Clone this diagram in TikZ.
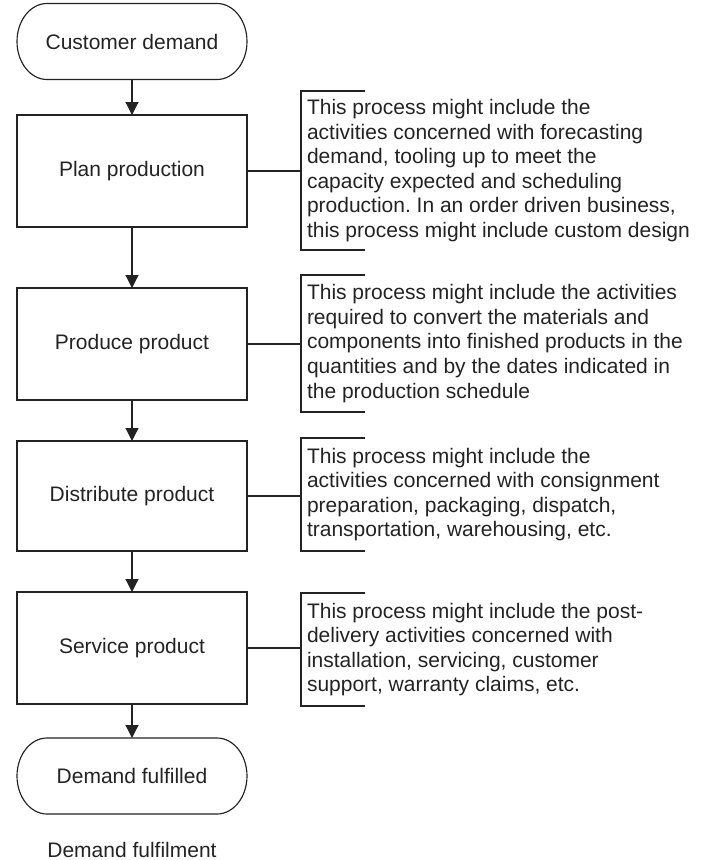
\documentclass[tikz,border=0pt]{standalone}
\usepackage{fontspec}
\setmainfont{Liberation Sans}
\usetikzlibrary{arrows.meta}
\definecolor{ink}{HTML}{232323}
\frenchspacing

\begin{document}
\begin{tikzpicture}[x=1pt, y=1pt,
    font=\fontsize{21}{24.6}\selectfont,
    every node/.style={text=ink, outer sep=0pt},
    line/.style={draw=ink, line width=1.15pt},
    stepbox/.style={line, rectangle, inner sep=0pt,
      minimum width=230pt, minimum height=112pt},
    terminal/.style={rectangle, inner sep=0pt,
      minimum width=230pt, minimum height=76pt},
    note/.style={anchor=west, align=left, inner xsep=6pt, inner ysep=0pt},
    flow/.style={line, -{Triangle[length=13pt, width=13pt]}},
    link/.style={line},
  ]
  \useasboundingbox (0,0) rectangle (713,-860);

  % main flow
  \node[terminal] (cust) at (132,-41.5) {Customer demand};
  \node[stepbox] (plan) at (132,-171) {Plan production};
  \node[stepbox] (prod) at (132,-344) {Produce product};
  \node[stepbox, minimum height=110pt] (dist) at (132,-496) {Distribute product};
  \node[stepbox] (serv) at (132,-648) {Service product};
  \node[terminal] (done) at (132,-776) {Demand fulfilled};

  % terminal outlines with elliptical ends
  \foreach \t in {cust,done}{
    \draw[line] ([xshift=30pt]\t.north west) -- ([xshift=-30pt]\t.north east)
      arc[start angle=90, end angle=-90, x radius=30pt, y radius=38pt]
      -- ([xshift=30pt]\t.south west)
      arc[start angle=270, end angle=90, x radius=30pt, y radius=38pt]
      -- cycle;
  }

  \draw[flow] (cust) -- (plan);
  \draw[flow] (plan) -- (prod);
  \draw[flow] (prod) -- (dist);
  \draw[flow] (dist) -- (serv);
  \draw[flow] (serv) -- (done);

  % annotations
  \node[note, minimum height=159pt] (n1) at (301,-170.5)
    {This process might include the\\
     activities concerned with forecasting\\
     demand, tooling up to meet the\\
     capacity expected and scheduling\\
     production. In an order driven business,\\
     this process might include custom design};
  \node[note, minimum height=137pt] (n2) at (301,-343.5)
    {This process might include the activities\\
     required to convert the materials and\\
     components into finished products in the\\
     quantities and by the dates indicated in\\
     the production schedule};
  \node[note, minimum height=113pt] (n3) at (301,-494.5)
    {This process might include the\\
     activities concerned with consignment\\
     preparation, packaging, dispatch,\\
     transportation, warehousing, etc.};
  \node[note, minimum height=113pt] (n4) at (301,-649.5)
    {This process might include the post-\\
     delivery activities concerned with\\
     installation, servicing, customer\\
     support, warranty claims, etc.};

  % brackets and links to the steps
  \foreach \b/\s in {n1/plan, n2/prod, n3/dist, n4/serv}{
    \draw[line] ([xshift=64pt]\b.north west) -- (\b.north west)
      -- (\b.south west) -- ([xshift=64pt]\b.south west);
    \draw[link] (\s.east) -- (\s.east -| \b.west);
  }

  \node[anchor=base] (cap) at (132,-857) {Demand fulfilment};
\end{tikzpicture}
\end{document}
